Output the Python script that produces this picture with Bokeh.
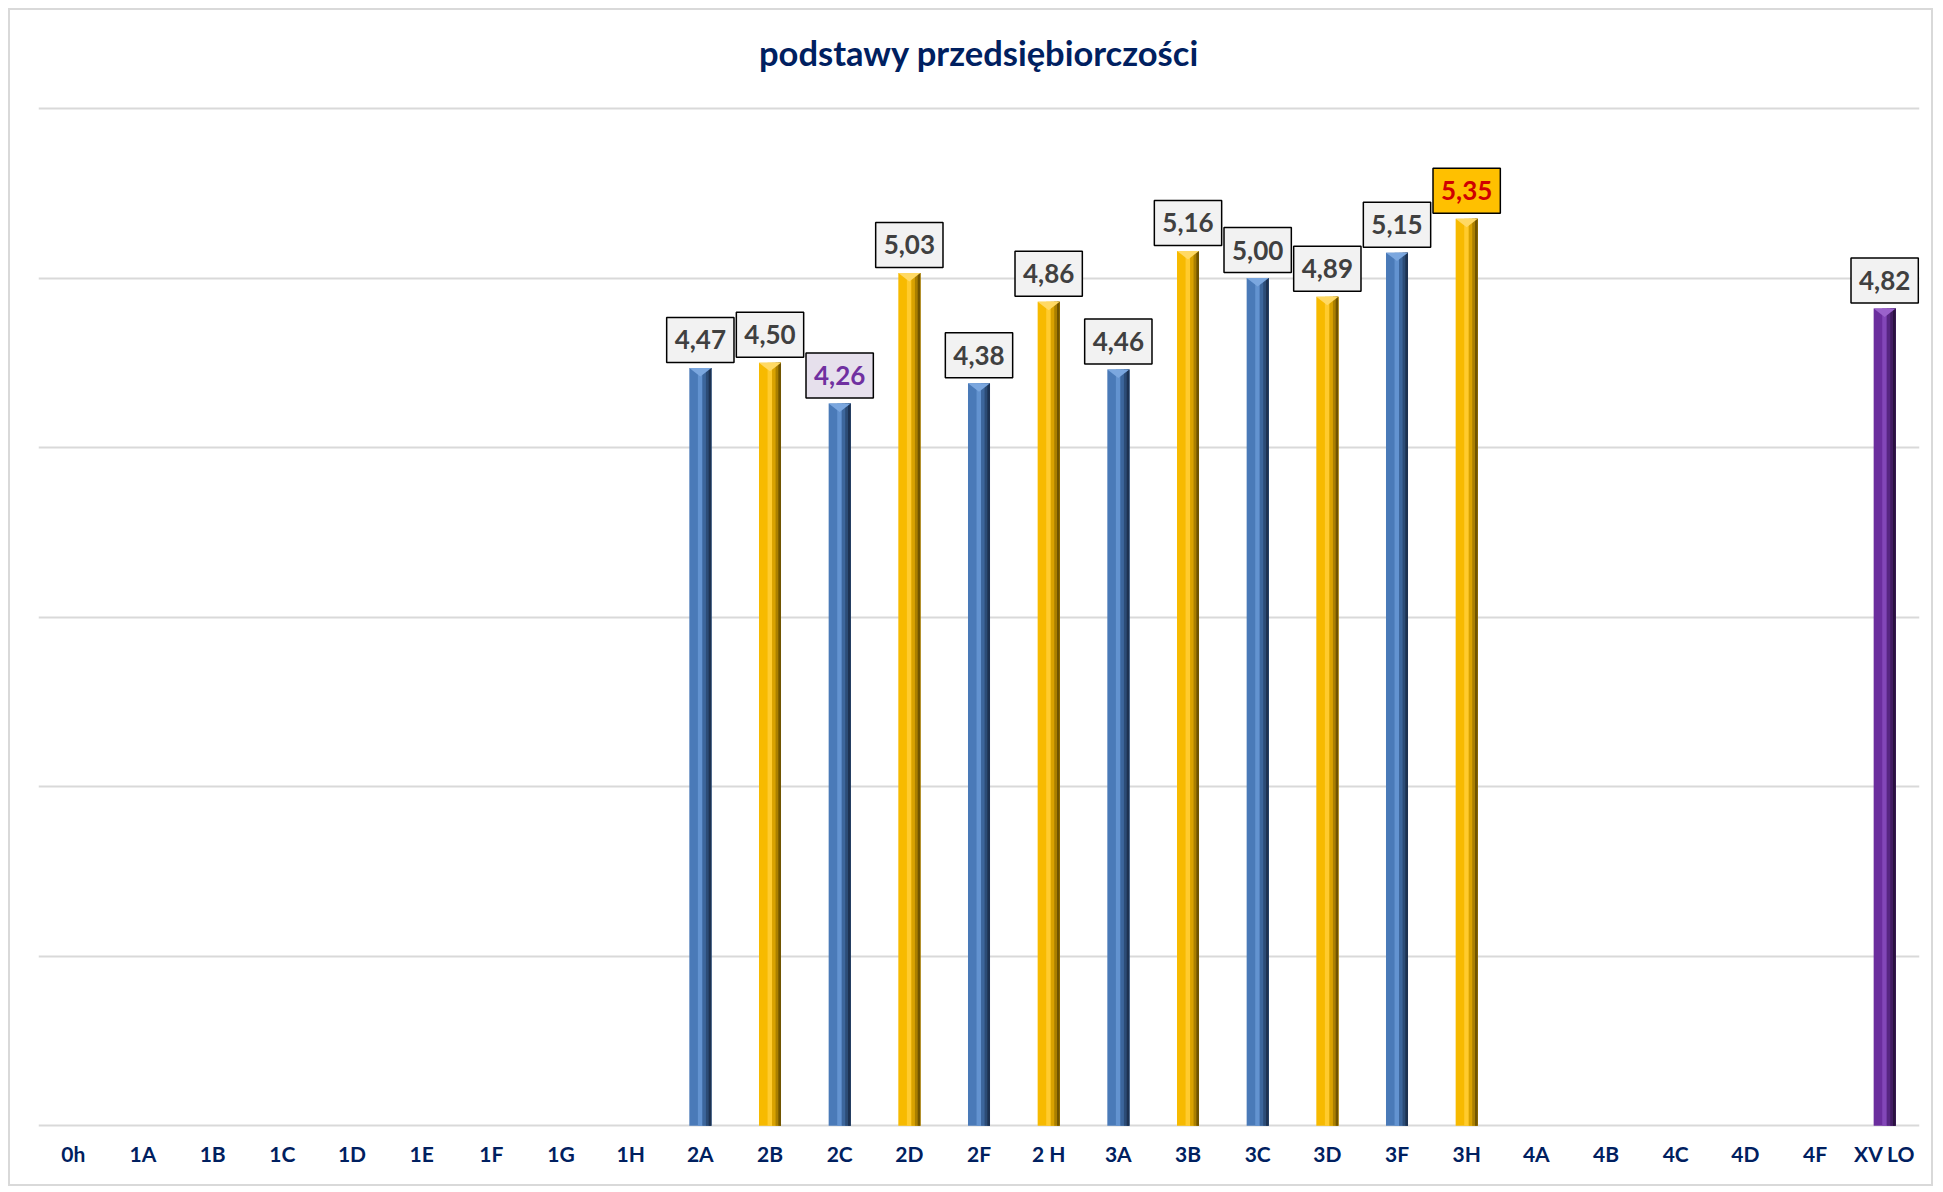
from bokeh.plotting import figure
from bokeh.models import ColumnDataSource, Range1d, FixedTicker
from bokeh.embed import file_html
from bokeh.resources import INLINE
from bokeh.core.properties import value

# ---------------- data ----------------
title_text = "podstawy przedsiębiorczości"
categories = ["0h", "1A", "1B", "1C", "1D", "1E", "1F", "1G", "1H",
              "2A", "2B", "2C", "2D", "2F", "2 H", "3A", "3B", "3C", "3D", "3F", "3H",
              "4A", "4B", "4C", "4D", "4F", "XV LO"]
scores = [None, None, None, None, None, None, None, None, None,
          4.47, 4.50, 4.26, 5.03, 4.38, 4.86, 4.46, 5.16, 5.00, 4.89, 5.15, 5.35,
          None, None, None, None, None, 4.82]
bar_kind = [None] * 9 + ["blue", "gold", "blue", "gold", "blue", "gold",
                         "blue", "gold", "blue", "gold", "blue", "gold"] + [None] * 5 + ["purple"]
label_kind = [None] * 9 + ["norm", "norm", "low", "norm", "norm", "norm",
                           "norm", "norm", "norm", "norm", "norm", "high"] + [None] * 5 + ["norm"]
y_ticks = [0, 1, 2, 3, 4, 5, 6]

# ---------------- styles ----------------
SHADES = {
    "blue":   {"base": "#4A7AB8", "hi": "#6393D0", "d1": "#3C669C", "d2": "#2C4C76", "d3": "#1D3251", "top": "#7BA7DF"},
    "gold":   {"base": "#F7BA00", "hi": "#FFCB2E", "d1": "#D9A200", "d2": "#AA7F00", "d3": "#705400", "top": "#FFD964"},
    "purple": {"base": "#6B2E9E", "hi": "#8347B8", "d1": "#572682", "d2": "#421C62", "d3": "#2B1240", "top": "#9A62CB"},
}
LABEL_STYLE = {
    "norm": ("#F2F2F2", "#404040"),
    "low":  ("#E6E0EC", "#7030A0"),
    "high": ("#FFC000", "#D00000"),
}
HW = 0.158
LAYERS = [("base", -HW, HW), ("hi", -0.035, 0.03), ("d1", 0.03, HW), ("d2", 0.08, HW), ("d3", 0.12, HW)]

# ---------------- layout ----------------
FIG_W, FIG_H = 1925, 1178
MB_TOP, MB_BOTTOM = 6, 61
PX_PER_UNIT = 1017 / 6.02           # vertical scale of the plot area
Y_BOTTOM = -0.01
frame_h = FIG_H - 4 - MB_TOP - MB_BOTTOM
Y_TOP = Y_BOTTOM + frame_h / PX_PER_UNIT   # leaves room above the grid for the title
TITLE_GAP_PX = 55.8                  # title centre above the top gridline

idx = [i for i, v in enumerate(scores) if v is not None]
centers = [i + 0.5 for i in idx]
vals = [scores[i] for i in idx]
kinds = [bar_kind[i] for i in idx]

p = figure(width=FIG_W, height=FIG_H, output_backend="svg", toolbar_location=None,
           x_range=Range1d(0, len(categories)), y_range=Range1d(Y_BOTTOM, Y_TOP),
           min_border_left=28, min_border_right=16, min_border_top=MB_TOP, min_border_bottom=MB_BOTTOM)
p.styles = {"border": "2px solid #D9D9D9", "margin-left": "8px", "margin-top": "8px"}
p.outline_line_color = None
p.background_fill_color = "white"
p.border_fill_color = "white"

# axes
p.yaxis.visible = False
p.yaxis.ticker = FixedTicker(ticks=y_ticks)
p.ygrid.grid_line_color = "#D9D9D9"
p.ygrid.grid_line_width = 2
p.xgrid.grid_line_color = None

p.xaxis.ticker = FixedTicker(ticks=[i + 0.5 for i in range(len(categories))])
p.xaxis.major_label_overrides = {i + 0.5: c for i, c in enumerate(categories)}
p.xaxis.axis_line_color = None
p.xaxis.major_tick_line_color = None
p.xaxis.minor_tick_line_color = None
p.xaxis.major_label_standoff = 7
p.xaxis.major_label_text_font = "Lato"
p.xaxis.major_label_text_font_style = "bold"
p.xaxis.major_label_text_font_size = "21px"
p.xaxis.major_label_text_color = "#002060"

# title, centred over the plot, above the top gridline
p.text(x=[len(categories) / 2], y=[max(y_ticks) + TITLE_GAP_PX / PX_PER_UNIT], text=[title_text],
       text_align="center", text_baseline="middle",
       text_font=value("Lato"), text_font_style="bold", text_font_size="34.5px",
       text_color="#002060")

# bars with a bevelled, cylinder-like look
for name, l, r in LAYERS:
    src = ColumnDataSource(dict(
        x=[c + (l + r) / 2 for c in centers],
        top=vals,
        color=[SHADES[k][name] for k in kinds],
    ))
    p.vbar(x="x", width=r - l, top="top", bottom=0, source=src,
           fill_color="color", line_color=None)

tri = ColumnDataSource(dict(
    xs=[[c - HW, c + HW, c] for c in centers],
    ys=[[v, v, v - 0.05] for v in vals],
    color=[SHADES[k]["top"] for k in kinds],
))
p.patches("xs", "ys", source=tri, fill_color="color", line_color=None)

# value labels
lab = ColumnDataSource(dict(
    x=centers,
    y=vals,
    text=[f"{v:.2f}".replace(".", ",") for v in vals],
    fill=[LABEL_STYLE[label_kind[i]][0] for i in idx],
    tcol=[LABEL_STYLE[label_kind[i]][1] for i in idx],
))
p.text(x="x", y="y", text="text", source=lab, y_offset=-28,
       text_align="center", text_baseline="middle",
       text_font=value("Lato"), text_font_style="bold", text_font_size="26px",
       text_color="tcol", background_fill_color="fill",
       border_line_color="black", border_line_width=1.5, padding=dict(x=8, y=13))

open("out.html", "w").write(file_html(p, INLINE))
